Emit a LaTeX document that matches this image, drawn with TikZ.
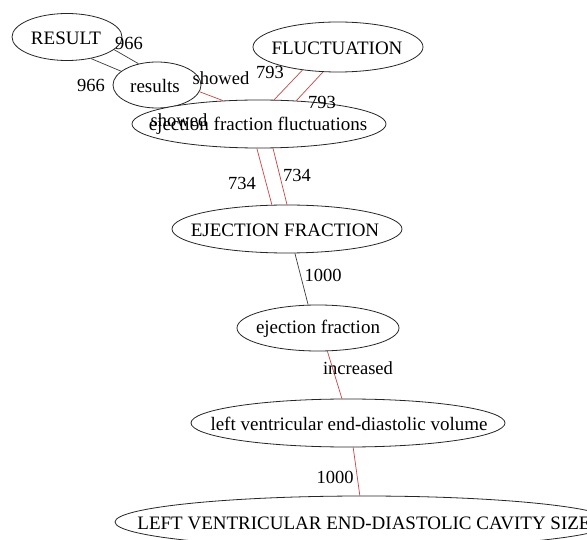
\documentclass[tikz,border=0pt]{standalone}
\usepackage{fontspec}
\setmainfont{Liberation Serif}
\usetikzlibrary{shapes.geometric}
\definecolor{edgered}{RGB}{200,70,70}
\definecolor{edgegray}{RGB}{60,60,60}
\tikzset{
  concept/.style={ellipse, draw=black!85, line width=0.8pt, inner sep=0pt, fill=white},
  ctext/.style={inner sep=0pt, font=\fontsize{19}{22}\selectfont},
  lbl/.style={inner sep=0pt, font=\fontsize{18.5}{22}\selectfont},
  redline/.style={draw=edgered, line width=0.7pt},
  grayline/.style={draw=edgegray, line width=0.7pt},
}
\begin{document}
\begin{tikzpicture}[x=1pt,y=-1pt]
\useasboundingbox (0,0) rectangle (587,540);
\clip (0,0) rectangle (587,540);
\fill[white] (0,0) rectangle (587,540);

% concept ellipses
\node[concept, minimum width=110pt, minimum height=47pt] (RESULT) at (67,37) {};
\node[concept, minimum width=88pt, minimum height=46pt] (results) at (157,85) {};
\node[concept, minimum width=170pt, minimum height=50pt] (FLUCT) at (338,47) {};
\node[concept, minimum width=254pt, minimum height=48pt] (ejfl) at (259,124) {};
\node[concept, minimum width=230pt, minimum height=48pt] (EF) at (287,229) {};
\node[concept, minimum width=162pt, minimum height=46pt] (ef) at (318,328) {};
\node[concept, minimum width=314pt, minimum height=48pt] (lvedv) at (348,423) {};
\node[concept, minimum width=498pt, minimum height=52pt] (LVEDCS) at (364,522) {};

% concept texts
\node[ctext] (tRESULT) at (66,38) {RESULT};
\node[ctext] (tresults) at (155,86) {results};
\node[ctext] (tFLUCT) at (337,48) {FLUCTUATION};
\node[ctext] (tejfl) at (258,126) {ejection fraction fluctuations};
\node[ctext] (tEF) at (285,230) {EJECTION FRACTION};
\node[ctext] (tef) at (318,329) {ejection fraction};
\node[ctext] (tlvedv) at (349,424) {left ventricular end-diastolic volume};
\node[ctext] (tLVEDCS) at (364,523) {LEFT VENTRICULAR END-DIASTOLIC CAVITY SIZE};

% connectors
\draw[grayline] (RESULT.-42) -- (results.159);
\draw[grayline] (RESULT.-15) -- (results.131);
\draw[redline] (results.-9) -- (ejfl.147);
\draw[redline] (FLUCT.213) -- (ejfl.58);
\draw[redline] (FLUCT.239) -- (ejfl.32);
\draw[redline] (ejfl.-95) -- (EF.122);
\draw[redline] (ejfl.-60) -- (EF.90);
\draw[grayline] (EF.-72) -- (ef.113);
\draw[redline] (ef.-68) -- (lvedv.104);
\draw[redline] (lvedv.-78) -- (LVEDCS.99);

% labels
\node[lbl] (l966a) at (129,43) {966};
\node[lbl] (l966b) at (91,85) {966};
\node[lbl] (lshowa) at (221,78) {showed};
\node[lbl] (l793a) at (270,72) {793};
\node[lbl] (l793b) at (322,102) {793};
\node[lbl] (lshowb) at (179,120) {showed};
\node[lbl] (l734a) at (242,183) {734};
\node[lbl] (l734b) at (297,175) {734};
\node[lbl] (l1000a) at (323,275) {1000};
\node[lbl] (linc) at (358,368) {increased};
\node[lbl] (l1000b) at (335,477) {1000};
\end{tikzpicture}
\end{document}
